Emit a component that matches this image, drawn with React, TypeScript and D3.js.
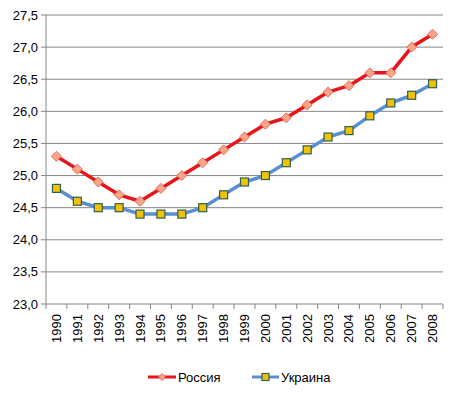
import React from "react";
import * as d3 from "d3";

const years = ["1990","1991","1992","1993","1994","1995","1996","1997","1998","1999","2000","2001","2002","2003","2004","2005","2006","2007","2008"];
const russia = [25.3,25.1,24.9,24.7,24.6,24.8,25.0,25.2,25.4,25.6,25.8,25.9,26.1,26.3,26.4,26.6,26.6,27.0,27.2];
const ukraine = [24.8,24.6,24.5,24.5,24.4,24.4,24.4,24.5,24.7,24.9,25.0,25.2,25.4,25.6,25.7,25.93,26.13,26.25,26.43];
const yTicks = [23.0,23.5,24.0,24.5,25.0,25.5,26.0,26.5,27.0,27.5];

export default function App() {
  const W = 457, H = 393;
  const left = 46, right = 443, top = 15, bottom = 304;
  const x = d3.scaleBand<string>().domain(years).range([left, right]);
  const y = d3.scaleLinear().domain([23, 27.5]).range([bottom, top]);
  const cx = (yr: string) => (x(yr) as number) + x.bandwidth() / 2;
  const line = d3.line<number>().x((_, i) => cx(years[i])).y(d => y(d));
  const font = "Arial, 'Liberation Sans', sans-serif";
  const fmt = (v: number) => v.toFixed(1).replace(".", ",");
  const red = "#e8131b";
  const blue = "#5b8fd2";
  const diamond = (px: number, py: number, key: any, r = 5) => (
    <path key={key} d={`M${px},${py - r}L${px + r},${py}L${px},${py + r}L${px - r},${py}Z`} fill="#f8a58a" stroke="#e56a55" strokeWidth={1} />
  );
  const square = (px: number, py: number, key: any, s = 8) => (
    <rect key={key} x={px - s / 2} y={py - s / 2} width={s} height={s} fill="#f2c200" stroke="#2f5f55" strokeWidth={1.2} />
  );
  return (
    <svg width={W} height={H} style={{ position: "absolute", left: 0, top: 0, background: "#fff" }}>
      {yTicks.map(t => (
        <g key={t}>
          <line x1={left} x2={right} y1={y(t)} y2={y(t)} stroke="#868686" strokeWidth={1} />
          <line x1={left - 5} x2={left} y1={y(t)} y2={y(t)} stroke="#868686" strokeWidth={1} />
          <text x={left - 8} y={y(t)} dy="0.35em" textAnchor="end" fontFamily={font} fontSize={13} fill="#000">{fmt(t)}</text>
        </g>
      ))}
      <line x1={left} x2={left} y1={top} y2={bottom} stroke="#868686" strokeWidth={1} />
      {years.map((yr) => (
        <line key={"t" + yr} x1={(x(yr) as number)} x2={(x(yr) as number)} y1={bottom} y2={bottom + 5} stroke="#868686" />
      ))}
      <line x1={right} x2={right} y1={bottom} y2={bottom + 5} stroke="#868686" />
      {years.map(yr => (
        <text key={"l" + yr} transform={`translate(${cx(yr) + 4.5},${bottom + 10}) rotate(-90)`} textAnchor="end" fontFamily={font} fontSize={13} fill="#000">{yr}</text>
      ))}
      <path d={line(ukraine) as string} fill="none" stroke={blue} strokeWidth={3.5} strokeLinejoin="round" />
      {ukraine.map((v, i) => square(cx(years[i]), y(v), "u" + i))}
      <path d={line(russia) as string} fill="none" stroke={red} strokeWidth={3.5} strokeLinejoin="round" />
      {russia.map((v, i) => diamond(cx(years[i]), y(v), "r" + i))}
      <g>
        <line x1={148} x2={176} y1={377} y2={377} stroke={red} strokeWidth={3} />
        {diamond(162, 377, "ld", 3.5)}
        <text x={178} y={377} dy="0.35em" fontFamily={font} fontSize={13} fill="#000">Россия</text>
        <line x1={252} x2={279} y1={377} y2={377} stroke={blue} strokeWidth={3} />
        {square(265.5, 377, "ls", 7)}
        <text x={281} y={377} dy="0.35em" fontFamily={font} fontSize={13} fill="#000">Украина</text>
      </g>
    </svg>
  );
}
